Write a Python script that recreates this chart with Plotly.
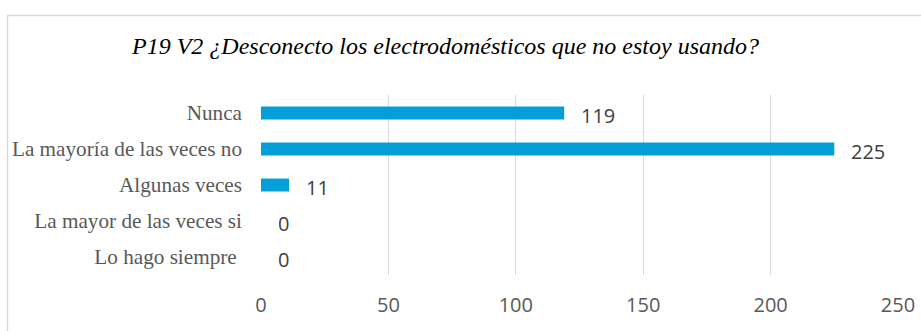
import plotly.graph_objects as go

# Survey responses, listed top to bottom
categories = [
    "Nunca",
    "La mayoría de las veces no",
    "Algunas veces",
    "La mayor de las veces si",
    "Lo hago siempre",
]
counts = [119, 225, 11, 0, 0]
x_ticks = [0, 50, 100, 150, 200, 250]
# the last label carries a trailing space in the source sheet
category_labels = categories[:-1] + [categories[-1] + "\u00a0"]

title_text = "P19 V2 ¿Desconecto los electrodomésticos que no estoy usando?"

W, H = 921, 331
L, R, T, B = 261, 23, 95, 56
pw, ph = W - L - R, H - T - B

fig = go.Figure()
fig.add_trace(go.Bar(
    y=categories,
    x=counts,
    orientation="h",
    width=0.36,
    marker=dict(color="#049FD9", line=dict(width=0)),
    hoverinfo="skip",
))

# value labels next to each bar
for cat, val in zip(categories, counts):
    fig.add_annotation(
        x=val, y=cat, xref="x", yref="y",
        text=str(val), showarrow=False,
        xanchor="left", yanchor="middle", xshift=15, yshift=-2,
        font=dict(family="Open Sans", size=20, color="#404040"),
    )


def px_x(v):
    return (v - L) / pw


def px_y(v):
    return (T + ph - v) / ph


# title
fig.add_annotation(
    x=px_x(445), y=px_y(46), xref="paper", yref="paper",
    text=title_text, showarrow=False, xanchor="center", yanchor="middle",
    font=dict(family="Liberation Serif", size=24, color="#000000", style="italic"),
)

# chart frame
fig.add_shape(
    type="rect", xref="paper", yref="paper",
    x0=px_x(7.5), x1=px_x(930), y0=px_y(15.5), y1=px_y(345),
    line=dict(color="#D9D9D9", width=1.5), fillcolor="rgba(0,0,0,0)",
    layer="below",
)

fig.update_layout(
    width=W, height=H,
    margin=dict(l=L, r=R, t=T, b=B, autoexpand=False),
    paper_bgcolor="white", plot_bgcolor="white",
    showlegend=False,
    xaxis=dict(
        range=[0, 250], tickvals=x_ticks, ticktext=[str(t) for t in x_ticks],
        showgrid=True, gridcolor="#D9D9D9", gridwidth=1.2,
        zeroline=False, showline=False, ticks="",
        ticklabelstandoff=16, automargin=False,
        tickfont=dict(family="Open Sans", size=20, color="#595959"),
        fixedrange=True,
    ),
    yaxis=dict(
        categoryorder="array", categoryarray=categories,
        tickmode="array", tickvals=categories, ticktext=category_labels,
        autorange="reversed", showgrid=False, zeroline=False, showline=False,
        ticks="", ticklabelstandoff=18, automargin=False,
        tickfont=dict(family="Liberation Serif", size=21.2, color="#595959"),
        fixedrange=True,
    ),
)

fig.write_html("out.html")
